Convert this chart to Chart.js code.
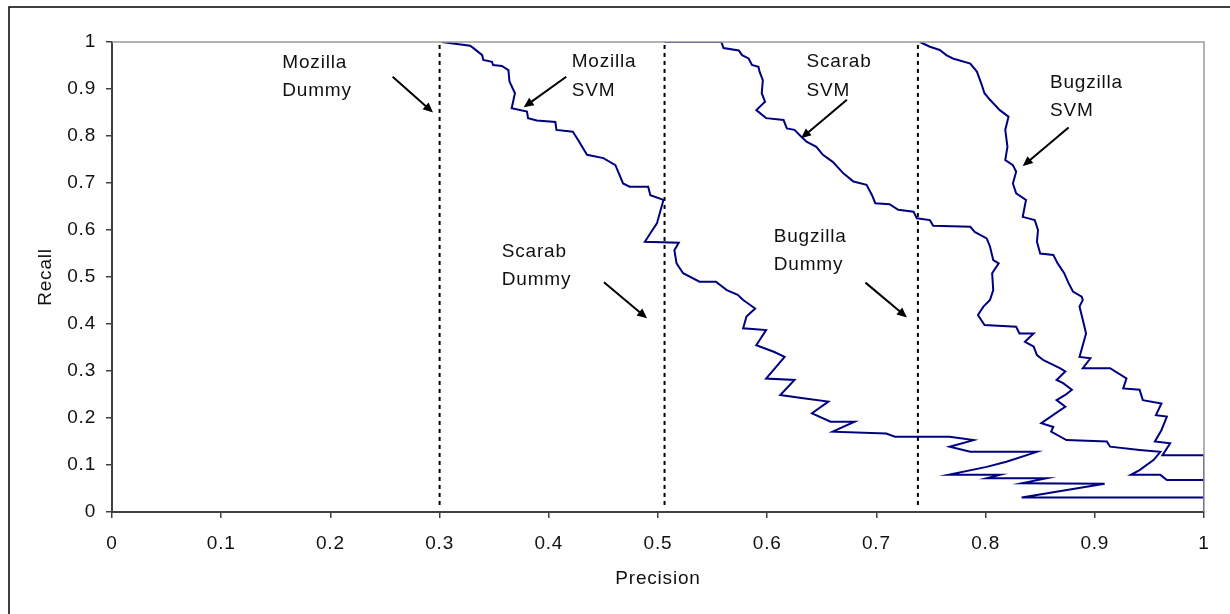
<!DOCTYPE html>
<html>
<head>
<meta charset="utf-8">
<script src="https://cdn.jsdelivr.net/npm/chart.js@4/dist/chart.umd.min.js"></script>
<style>
  html, body { margin: 0; padding: 0; background: #fff; }
  #wrap { width: 1230px; height: 614px; position: relative; }
</style>
</head>
<body>
<div id="wrap"><canvas id="chart" width="1230" height="614"></canvas></div>
<script>
// precision / recall curves as [precision, recall]
const mozillaSvm = [
  [0.302,1.0],[0.328,0.992],[0.331,0.987],[0.339,0.972],[0.340,0.962],[0.348,0.958],[0.349,0.951],
  [0.357,0.949],[0.363,0.940],[0.364,0.916],[0.369,0.891],[0.366,0.859],[0.380,0.852],[0.381,0.838],
  [0.389,0.833],[0.406,0.830],[0.407,0.813],[0.422,0.809],[0.427,0.791],[0.435,0.760],[0.450,0.753],
  [0.461,0.738],[0.468,0.699],[0.474,0.692],[0.491,0.692],[0.493,0.674],[0.505,0.664],[0.499,0.614],
  [0.493,0.593],[0.488,0.575],[0.519,0.573],[0.515,0.557],[0.517,0.529],[0.523,0.508],[0.538,0.490],
  [0.553,0.490],[0.563,0.472],[0.573,0.462],[0.578,0.451],[0.589,0.433],[0.581,0.416],[0.578,0.391],
  [0.599,0.387],[0.590,0.355],[0.606,0.341],[0.616,0.330],[0.599,0.284],[0.625,0.281],[0.612,0.249],
  [0.633,0.242],[0.656,0.235],[0.641,0.210],[0.658,0.192],[0.680,0.192],[0.660,0.171],[0.709,0.167],
  [0.717,0.160],[0.767,0.160],[0.789,0.153],[0.767,0.139],[0.786,0.128],[0.847,0.128],[0.819,0.107],
  [0.801,0.096],[0.766,0.079],[0.813,0.079],[0.801,0.072],[0.856,0.072],[0.833,0.061],[0.909,0.060],
  [0.833,0.031],[1.0,0.031],[1.0,0]
];
const scarabSvm = [
  [0.506,1.0],[0.558,1.0],[0.560,0.987],[0.574,0.982],[0.577,0.972],[0.583,0.965],[0.586,0.951],
  [0.592,0.947],[0.593,0.937],[0.596,0.919],[0.595,0.891],[0.598,0.873],[0.590,0.855],[0.599,0.838],
  [0.615,0.834],[0.618,0.816],[0.625,0.813],[0.631,0.799],[0.636,0.788],[0.645,0.777],[0.651,0.760],
  [0.660,0.745],[0.670,0.720],[0.679,0.703],[0.691,0.696],[0.696,0.674],[0.699,0.657],[0.712,0.655],
  [0.720,0.643],[0.734,0.639],[0.737,0.625],[0.749,0.621],[0.752,0.609],[0.786,0.607],[0.790,0.596],
  [0.801,0.582],[0.804,0.565],[0.807,0.536],[0.812,0.529],[0.806,0.508],[0.807,0.472],[0.804,0.451],
  [0.798,0.437],[0.793,0.419],[0.799,0.398],[0.828,0.394],[0.831,0.380],[0.844,0.380],[0.836,0.362],
  [0.844,0.352],[0.847,0.334],[0.853,0.323],[0.868,0.306],[0.873,0.299],[0.865,0.281],[0.871,0.274],
  [0.879,0.260],[0.873,0.249],[0.865,0.238],[0.873,0.224],[0.864,0.210],[0.851,0.189],[0.862,0.181],
  [0.860,0.171],[0.874,0.153],[0.911,0.150],[0.914,0.139],[0.941,0.132],[0.960,0.128],[0.954,0.111],
  [0.941,0.089],[0.933,0.079],[0.960,0.079],[0.966,0.068],[1.0,0.068],[1.0,0]
];
const bugzillaSvm = [
  [0.740,1.0],[0.749,0.990],[0.758,0.983],[0.764,0.972],[0.770,0.965],[0.786,0.954],[0.792,0.937],
  [0.796,0.912],[0.799,0.891],[0.804,0.877],[0.813,0.855],[0.821,0.841],[0.818,0.813],[0.820,0.777],
  [0.818,0.749],[0.825,0.738],[0.828,0.724],[0.825,0.699],[0.828,0.678],[0.837,0.664],[0.834,0.628],
  [0.845,0.621],[0.848,0.600],[0.847,0.575],[0.850,0.550],[0.862,0.547],[0.866,0.529],[0.872,0.508],
  [0.876,0.487],[0.880,0.469],[0.888,0.458],[0.889,0.451],[0.886,0.437],[0.889,0.409],[0.892,0.380],
  [0.886,0.330],[0.896,0.327],[0.889,0.306],[0.914,0.306],[0.929,0.284],[0.926,0.263],[0.941,0.260],
  [0.944,0.238],[0.961,0.231],[0.956,0.206],[0.966,0.203],[0.961,0.174],[0.955,0.150],[0.969,0.146],
  [0.962,0.121],[1.0,0.121],[1.0,0]
];

// dummy classifiers: precision is constant
const dummyNames = ["Mozilla Dummy", "Scarab Dummy", "Bugzilla Dummy"];
const dummyPrecision = [0.300, 0.506, 0.738];

const xTicks = [0, 0.1, 0.2, 0.3, 0.4, 0.5, 0.6, 0.7, 0.8, 0.9, 1];
const yTicks = [0, 0.1, 0.2, 0.3, 0.4, 0.5, 0.6, 0.7, 0.8, 0.9, 1];

// callout labels: [lines, text x, first baseline y, arrow from, arrow to] in data units
const callouts = [
  [["Mozilla", "Dummy"], 0.156, 0.945, [0.257, 0.926], [0.294, 0.850]],
  [["Mozilla", "SVM"], 0.421, 0.946, [0.416, 0.926], [0.377, 0.861]],
  [["Scarab", "SVM"], 0.636, 0.946, [0.673, 0.877], [0.631, 0.795]],
  [["Bugzilla", "SVM"], 0.859, 0.903, [0.876, 0.818], [0.834, 0.736]],
  [["Scarab", "Dummy"], 0.357, 0.543, [0.4505, 0.489], [0.490, 0.412]],
  [["Bugzilla", "Dummy"], 0.606, 0.575, [0.690, 0.488], [0.728, 0.414]]
];

const FONT = "'Liberation Sans', Arial, sans-serif";
const FSIZE = 19;
const SPACING = "0.8px";
const navy = "#000080";

const toPts = arr => arr.map(p => ({ x: p[0], y: p[1] }));

const datasets = [
  { label: "Mozilla SVM", data: toPts(mozillaSvm) },
  { label: "Scarab SVM", data: toPts(scarabSvm) },
  { label: "Bugzilla SVM", data: toPts(bugzillaSvm) }
].map(d => Object.assign(d, {
  showLine: true, borderColor: navy, borderWidth: 2, pointRadius: 0, tension: 0, fill: false
}));

dummyPrecision.forEach((p, i) => {
  datasets.push({
    label: dummyNames[i],
    data: [{ x: p, y: 0.015 }, { x: p, y: 1 }],
    showLine: true, borderColor: "#000", borderWidth: 2, borderDash: [4, 4],
    pointRadius: 0, fill: false
  });
});

const spacingPlugin = {
  id: "spacing",
  beforeLayout(chart) { chart.ctx.letterSpacing = SPACING; },
  beforeDraw(chart) { chart.ctx.letterSpacing = SPACING; }
};

const framePlugin = {
  id: "frame",
  beforeDraw(chart) {
    const ctx = chart.ctx;
    ctx.save();
    // outer picture border (only left and top are in frame)
    ctx.strokeStyle = "#000";
    ctx.lineWidth = 1.5;
    ctx.beginPath();
    ctx.moveTo(9, chart.height + 2);
    ctx.lineTo(9, 7);
    ctx.lineTo(chart.width + 2, 7);
    ctx.stroke();
    ctx.restore();
  },
  afterDatasetsDraw(chart) {
    const { ctx, chartArea: a } = chart;
    ctx.save();
    ctx.strokeStyle = "#9a9a9a";
    ctx.lineWidth = 1.5;
    ctx.beginPath();
    ctx.moveTo(a.left, a.top);
    ctx.lineTo(a.right, a.top);
    ctx.lineTo(a.right, a.bottom);
    ctx.stroke();
    ctx.restore();
  }
};

const calloutPlugin = {
  id: "callouts",
  afterDraw(chart) {
    const ctx = chart.ctx;
    const xs = chart.scales.x, ys = chart.scales.y;
    ctx.save();
    ctx.letterSpacing = SPACING;
    ctx.font = FSIZE + "px " + FONT;
    ctx.textAlign = "left";
    ctx.textBaseline = "alphabetic";
    callouts.forEach(([lines, tx, ty, from, to]) => {
      const px = xs.getPixelForValue(tx), py = ys.getPixelForValue(ty);
      ctx.fillStyle = "#111";
      lines.forEach((t, i) => ctx.fillText(t, px, py + i * 28.5));
      const x0 = xs.getPixelForValue(from[0]), y0 = ys.getPixelForValue(from[1]);
      const x1 = xs.getPixelForValue(to[0]), y1 = ys.getPixelForValue(to[1]);
      const ang = Math.atan2(y1 - y0, x1 - x0);
      const len = 10, half = 4.5;
      ctx.strokeStyle = "#000";
      ctx.lineWidth = 2;
      ctx.beginPath();
      ctx.moveTo(x0, y0);
      ctx.lineTo(x1 - Math.cos(ang) * len * 0.8, y1 - Math.sin(ang) * len * 0.8);
      ctx.stroke();
      ctx.fillStyle = "#000";
      ctx.beginPath();
      ctx.moveTo(x1, y1);
      ctx.lineTo(x1 - Math.cos(ang) * len + Math.sin(ang) * half, y1 - Math.sin(ang) * len - Math.cos(ang) * half);
      ctx.lineTo(x1 - Math.cos(ang) * len - Math.sin(ang) * half, y1 - Math.sin(ang) * len + Math.cos(ang) * half);
      ctx.closePath();
      ctx.fill();
    });
    ctx.restore();
  }
};

const axisCommon = {
  type: "linear",
  min: 0,
  max: 1,
  border: { display: true, color: "#404040", width: 2 },
  grid: { display: true, drawOnChartArea: false, drawTicks: true, tickLength: 6, color: "#404040", lineWidth: 1.5 },
};
const tickFmt = v => String(+v.toFixed(1));

new Chart(document.getElementById("chart"), {
  type: "scatter",
  data: { datasets },
  options: {
    responsive: false,
    animation: false,
    devicePixelRatio: 1,
    layout: { padding: { top: 42, right: 26, left: 0, bottom: 0 } },
    plugins: { legend: { display: false }, tooltip: { enabled: false } },
    scales: {
      x: Object.assign({}, axisCommon, {
        position: "bottom",
        afterBuildTicks: s => { s.ticks = xTicks.map(v => ({ value: v })); },
        afterFit: s => { s.height = 102; },
        ticks: { color: "#111", font: { family: FONT, size: FSIZE }, padding: 14, maxRotation: 0, autoSkip: false, callback: tickFmt },
        title: { display: true, text: "Precision", color: "#111", font: { family: FONT, size: FSIZE }, padding: { top: 0, bottom: 24 } }
      }),
      y: Object.assign({}, axisCommon, {
        position: "left",
        afterBuildTicks: s => { s.ticks = yTicks.map(v => ({ value: v })); },
        afterFit: s => { s.width = 112; },
        ticks: { color: "#111", font: { family: FONT, size: FSIZE }, padding: 10, autoSkip: false, callback: tickFmt },
        title: { display: true, text: "Recall", color: "#111", font: { family: FONT, size: FSIZE }, padding: { top: 34, bottom: 0 } }
      })
    }
  },
  plugins: [spacingPlugin, framePlugin, calloutPlugin]
});
</script>
</body>
</html>
